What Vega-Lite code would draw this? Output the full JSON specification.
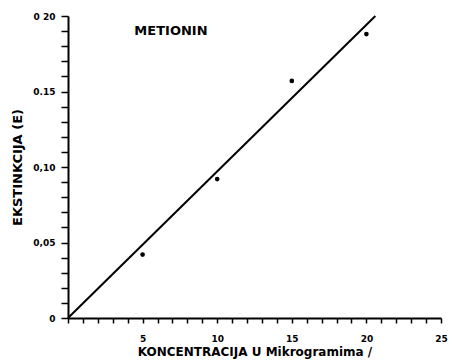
{
  "$schema": "https://vega.github.io/schema/vega-lite/v6.json",
  "autosize": "none",
  "width": 373,
  "height": 302,
  "padding": {"left": 68, "top": 16, "right": 11, "bottom": 45},
  "background": "white",
  "config": {
    "view": {"stroke": null},
    "font": "DejaVu Sans",
    "axis": {
      "domainColor": "black",
      "domainWidth": 2,
      "tickColor": "black",
      "tickWidth": 1.5,
      "grid": false,
      "labelOverlap": false,
      "labelFont": "DejaVu Sans",
      "labelFontWeight": "bold",
      "labelFontSize": 9,
      "labelColor": "black",
      "titleFont": "DejaVu Sans",
      "titleFontWeight": "bold",
      "titleColor": "black"
    }
  },
  "datasets": {
    "points": [
      {"c": 5, "e": 0.042},
      {"c": 10, "e": 0.092},
      {"c": 15, "e": 0.157},
      {"c": 20, "e": 0.188}
    ],
    "fit": [
      {"c": 0, "e": 0},
      {"c": 20.6, "e": 0.2}
    ],
    "label": [
      {"c": 6.9, "e": 0.19, "t": "METIONIN"}
    ]
  },
  "layer": [
    {
      "data": {"name": "fit"},
      "mark": {"type": "line", "color": "black", "strokeWidth": 2},
      "encoding": {
        "x": {
          "field": "c", "type": "quantitative",
          "scale": {"domain": [0, 25], "nice": false},
          "axis": {
            "values": [0,1,2,3,4,5,6,7,8,9,10,11,12,13,14,15,16,17,18,19,20,21,22,23,24,25],
            "tickCount": 100,
            "format": "d",
            "labelExpr": "datum.value > 0 && datum.value % 5 === 0 ? datum.label : ''",
            "tickSize": 5,
            "labelPadding": 11,
            "labelBound": false,
            "labelFlush": false,
            "title": "KONCENTRACIJA U Mikrogramima /",
            "titleFontSize": 12,
            "titlePadding": 3
          }
        },
        "y": {
          "field": "e", "type": "quantitative",
          "scale": {"domain": [0, 0.2], "nice": false},
          "axis": {
            "values": [0,0.01,0.02,0.03,0.04,0.05,0.06,0.07,0.08,0.09,0.1,0.11,0.12,0.13,0.14,0.15,0.16,0.17,0.18,0.19,0.2],
            "tickCount": 100,
            "labelExpr": "datum.value === 0 ? '0' : (abs(datum.value - 0.05) < 1e-6 ? '0,05' : (abs(datum.value - 0.1) < 1e-6 ? '0,10' : (abs(datum.value - 0.15) < 1e-6 ? '0.15' : (abs(datum.value - 0.2) < 1e-6 ? '0 20' : ''))))",
            "tickSize": 7,
            "labelPadding": 6,
            "labelBound": false,
            "labelFlush": false,
            "title": "EKSTINKCIJA (E)",
            "titleFontSize": 13,
            "titlePadding": 8
          }
        }
      }
    },
    {
      "data": {"name": "points"},
      "mark": {"type": "circle", "color": "black", "opacity": 1, "size": 22},
      "encoding": {
        "x": {"field": "c", "type": "quantitative"},
        "y": {"field": "e", "type": "quantitative"}
      }
    },
    {
      "data": {"name": "label"},
      "mark": {"type": "text", "font": "DejaVu Sans", "fontWeight": "bold", "fontSize": 13, "color": "black"},
      "encoding": {
        "x": {"field": "c", "type": "quantitative"},
        "y": {"field": "e", "type": "quantitative"},
        "text": {"field": "t"}
      }
    }
  ]
}
